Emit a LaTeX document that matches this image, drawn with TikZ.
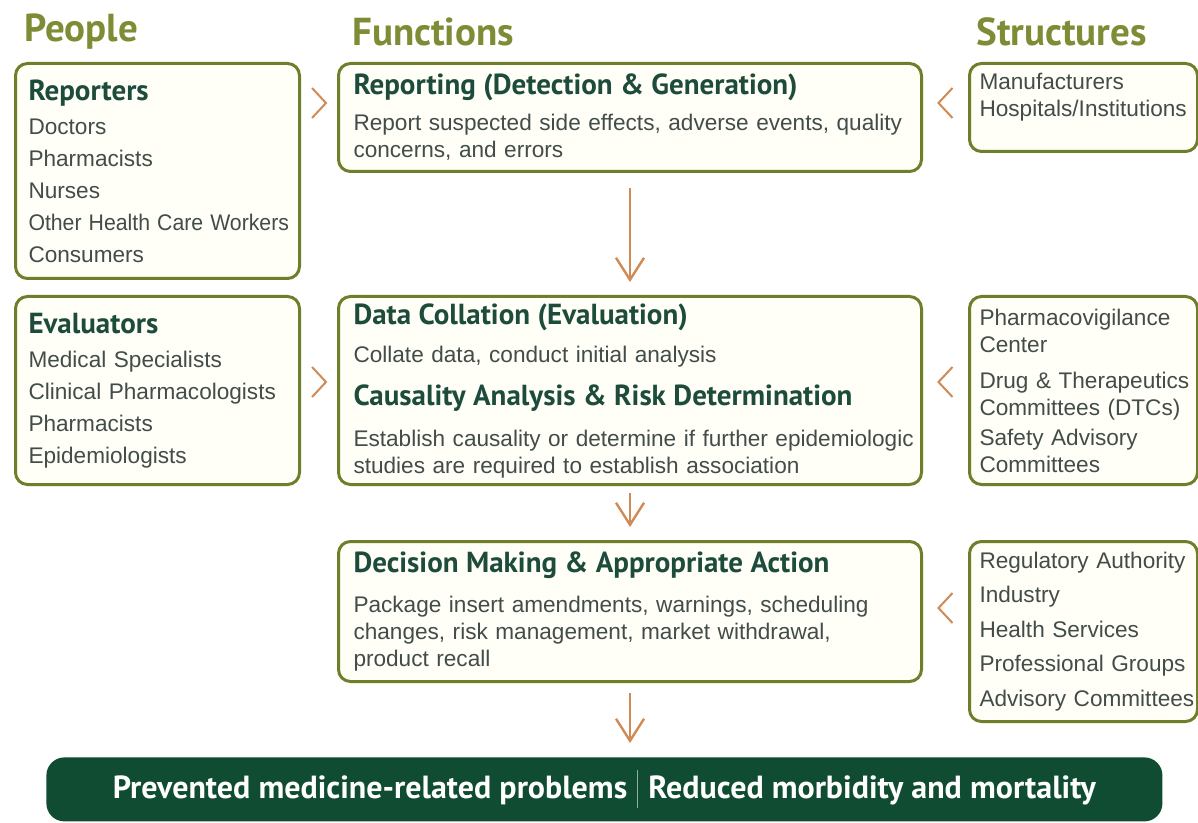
\documentclass[tikz,border=0pt]{standalone}
\usepackage{fontspec}
\usepackage{graphicx}
\setmainfont{Liberation Sans}
\newfontfamily\gillfont{PT Sans}
\usetikzlibrary{positioning,arrows.meta,calc}
\hyphenpenalty=10000
\exhyphenpenalty=10000

\definecolor{olivebox}{HTML}{6E7F2C}
\definecolor{headolive}{HTML}{7F8C36}
\definecolor{titlegreen}{HTML}{1D4B3C}
\definecolor{bodygray}{HTML}{424C4A}
\definecolor{flowor}{HTML}{D08A55}
\definecolor{bargreen}{HTML}{0F4C31}
\definecolor{boxfill}{HTML}{FFFFF7}

\newcommand{\ttl}[1]{{\gillfont\bfseries\fontsize{14.5}{16}\selectfont\color{titlegreen}#1}}

\begin{document}
\begin{tikzpicture}[x=0.5pt,y=-0.5pt,
  box/.style={draw=olivebox,line width=1.5pt,rounded corners=6pt,fill=boxfill,
    anchor=north west,align=left,inner xsep=6.5pt,inner ysep=0pt,
    font=\fontsize{11.3}{13.5}\selectfont,text=bodygray},
  head/.style={anchor=west,inner sep=0pt,font=\gillfont\bfseries\fontsize{19.5}{22}\selectfont,text=headolive},
  bar/.style={fill=bargreen,rounded corners=9pt,anchor=north west,text=white,
    font=\gillfont\bfseries\fontsize{16}{18}\selectfont},
  flow/.style={draw=flowor,line width=1.2pt,-{Straight Barb[length=11pt,width=14pt]}},
  chev/.style={draw=flowor,line width=1pt},
  chevr/.pic={\draw[chev] (-7,-15) -- (7,0) -- (-7,15);},
  chevl/.pic={\draw[chev] (7,-15) -- (-7,0) -- (7,15);}]
\useasboundingbox[fill=white] (0,0) rectangle (1198,823);

% column heads
\node[head] (people) at (24,32) {People};
\node[head] (functions) at (352,32) {Functions};
\node[head] (structures) at (976,32) {Structures};

% people
\node[box,text width=129pt,minimum height=107.5pt] (reporters) at (14,62)
  {\ttl{Reporters}\\[3.5pt] Doctors\\[2.5pt] Pharmacists\\[2.5pt] Nurses\\[2.5pt]
   \scalebox{0.94}[1]{Other Health Care Workers}\\[2.5pt] Consumers};
\node[box,text width=129pt,minimum height=94pt] (evaluators) at (14,295)
  {\ttl{Evaluators}\\[3.5pt] Medical Specialists\\[2.5pt] \mbox{Clinical Pharmacologists}\\[2.5pt]
   Pharmacists\\[2.5pt] Epidemiologists};

% functions
\node[box,text width=276.5pt,minimum height=54pt,inner xsep=7.5pt] (reporting) at (337,62)
  {\ttl{Reporting (Detection \& Generation)}\\[4.5pt]
   \mbox{Report suspected side effects, adverse events, quality}\\ concerns, and errors};
\node[box,text width=276.5pt,minimum height=94pt,inner xsep=7.5pt] (collation) at (337,295)
  {\ttl{Data Collation (Evaluation)}\\[5.5pt]
   Collate data, conduct initial analysis\\[8pt]
   \ttl{Causality Analysis \& Risk Determination}\\[7pt]
   \mbox{Establish causality or determine if further epidemiologic}\\
   studies are required to establish association};
\node[box,text width=276.5pt,minimum height=70pt,inner xsep=7.5pt] (decision) at (337,540)
  {\ttl{Decision Making \& Appropriate Action}\\[6.5pt]
   \mbox{Package insert amendments, warnings, scheduling}\\
   \mbox{changes, risk management, market withdrawal,}\\ product recall};

% structures
\node[box,text width=104pt,minimum height=44pt,inner xsep=5pt] (makers) at (968,62)
  {Manufacturers\\ \mbox{Hospitals/Institutions}\par\vspace{10pt}};
\node[box,text width=104pt,minimum height=94pt,inner xsep=5pt] (centers) at (968,295)
  {Pharmacovigilance\\ Center\\[4.5pt] \mbox{Drug \& Therapeutics}\\ \mbox{Committees (DTCs)}\\[1.5pt]
   Safety Advisory\\ Committees};
\node[box,text width=104pt,minimum height=90pt,inner xsep=5pt] (regulators) at (968,540)
  {\mbox{Regulatory Authority}\\[3.75pt] Industry\\[3.75pt] Health Services\\[3.75pt]
   \mbox{Professional Groups}\\[3.75pt] \mbox{Advisory Committees}};

% outcome
\node[bar,minimum width=558pt,minimum height=32pt] (outcome) at (46,757)
  {Prevented medicine-related problems\hspace{5pt}{\color{white!55!bargreen}\rule[-5pt]{0.6pt}{19pt}}\hspace{5pt}Reduced morbidity and mortality};

% flow down
\draw[flow,shorten <=7.5pt,shorten >=6.5pt] (reporting) -- (collation);
\draw[flow,shorten <=3.5pt,shorten >=6.5pt] (collation) -- (decision);
\draw[flow,shorten <=5pt,shorten >=7pt] (decision) -- (decision.south |- outcome.north);

% chevrons
\coordinate (c1) at ($(reporters.east)!.5!(reporting.west)$);
\coordinate (c2) at ($(reporting.east)!.5!(makers.west)$);
\pic at (c1 |- 0,103) {chevr};
\pic at (c1 |- 0,382) {chevr};
\pic at (c2 |- 0,103) {chevl};
\pic at (c2 |- 0,382) {chevl};
\pic at (c2 |- 0,608) {chevl};
\end{tikzpicture}
\end{document}
